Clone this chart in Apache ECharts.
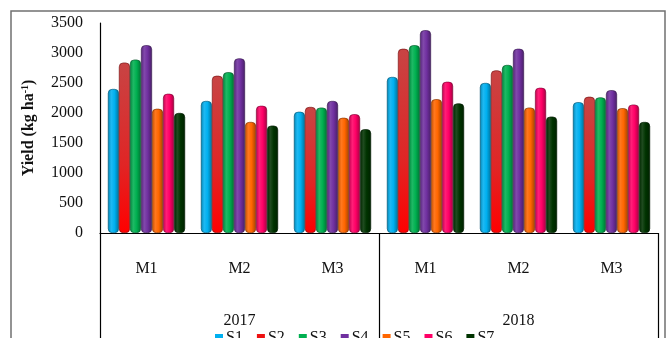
<!DOCTYPE html>
<html>
<head>
<meta charset="utf-8">
<script src="https://cdn.jsdelivr.net/npm/echarts@6/dist/echarts.min.js"></script>
<style>
  html, body { margin: 0; padding: 0; background: #fff; }
  #chart { width: 672px; height: 338px; }
</style>
</head>
<body>
<div id="chart"></div>
<script>
// Grain yield (kg/ha) by main plot (M) and sub plot (S) treatments, two seasons
const years = ['2017', '2018'];
const mainPlots = ['M1', 'M2', 'M3', 'M1', 'M2', 'M3'];
const seriesNames = ['S1', 'S2', 'S3', 'S4', 'S5', 'S6', 'S7'];
const yTicks = { min: 0, max: 3500, step: 500 };

// values per sub-plot treatment, in order 2017 M1..M3, 2018 M1..M3
const S1 = [2400, 2200, 2020, 2600, 2500, 2180];
const S2 = [2840, 2620, 2100, 3070, 2710, 2270];
const S3 = [2890, 2680, 2090, 3130, 2800, 2260];
const S4 = [3130, 2910, 2200, 3380, 3070, 2380];
const S5 = [2070, 1850, 1920, 2230, 2090, 2080];
const S6 = [2320, 2120, 1980, 2520, 2420, 2140];
const S7 = [2000, 1790, 1730, 2160, 1940, 1850];
const values = [S1, S2, S3, S4, S5, S6, S7];

const baseColors = ['#00B0F0', '#EE1111', '#00B050', '#7030A0', '#FF6600', '#FF0066', '#003300'];

function shade(hex, f) {
  const n = parseInt(hex.slice(1), 16);
  let r = (n >> 16) & 255, g = (n >> 8) & 255, b = n & 255;
  const adj = c => f < 0 ? Math.round(c * (1 + f)) : Math.round(c + (255 - c) * f);
  r = adj(r); g = adj(g); b = adj(b);
  return '#' + [r, g, b].map(c => c.toString(16).padStart(2, '0')).join('');
}

// cylinder-like horizontal shading
function cylinder(hex) {
  return new echarts.graphic.LinearGradient(0, 0, 1, 0, [
    { offset: 0, color: shade(hex, -0.25) },
    { offset: 0.3, color: shade(hex, 0.12) },
    { offset: 0.6, color: hex },
    { offset: 1, color: shade(hex, -0.35) }
  ]);
}

function fillFor(i) {
  if (i === 1) {
    // S2 fades from brick red at the top to bright red at the base
    return new echarts.graphic.LinearGradient(0, 0, 0, 1, [
      { offset: 0, color: '#C84444' },
      { offset: 0.6, color: '#E02525' },
      { offset: 1, color: '#FF0000' }
    ]);
  }
  return cylinder(baseColors[i]);
}

const font = 'Liberation Serif, Times New Roman, serif';

const series = seriesNames.map((name, i) => ({
  name: name,
  type: 'bar',
  data: values[i],
  barGap: '0%',
  barCategoryGap: '17%',
  itemStyle: {
    color: fillFor(i),
    borderColor: shade(baseColors[i], -0.55),
    borderWidth: 0.6,
    borderRadius: [4, 4, 4, 4]
  }
}));

const chart = echarts.init(document.getElementById('chart'), null, { renderer: 'canvas' });
chart.setOption({
  animation: false,
  backgroundColor: '#fff',
  color: baseColors,
  textStyle: { fontFamily: font, color: '#111' },
  grid: { left: 100, right: 14, top: 23, bottom: 105 },
  legend: {
    data: seriesNames.map((n, i) => ({ name: n, itemStyle: { color: baseColors[i], borderWidth: 0 } })),
    left: 210,
    top: 325,
    icon: 'rect',
    itemWidth: 8,
    itemHeight: 8,
    itemGap: 14,
    textStyle: { fontFamily: font, fontSize: 16, color: '#111', padding: [0, 0, 0, -2] }
  },
  xAxis: [
    {
      type: 'category',
      data: mainPlots,
      axisLine: { show: true, lineStyle: { color: '#000', width: 1.2 } },
      axisTick: { show: false },
      axisLabel: { fontFamily: font, fontSize: 16, color: '#111', margin: 28 }
    },
    {
      type: 'category',
      data: years,
      position: 'bottom',
      axisLine: { show: false },
      axisTick: { show: true, length: 112, lineStyle: { color: '#000', width: 1.2 } },
      axisLabel: { fontFamily: font, fontSize: 16, color: '#111', margin: 80 },
      splitLine: { show: false }
    }
  ],
  yAxis: {
    type: 'value',
    min: yTicks.min,
    max: yTicks.max,
    interval: yTicks.step,
    name: '{a|Yield (kg ha}{s|-1}{a|)}',
    nameLocation: 'middle',
    nameGap: 62,
    nameTextStyle: {
      rich: {
        a: { fontFamily: font, fontSize: 16, fontWeight: 'bold', color: '#111', lineHeight: 18 },
        s: { fontFamily: font, fontSize: 10, fontWeight: 'bold', color: '#111', verticalAlign: 'top', lineHeight: 18, padding: [0, 0, 6, 0] }
      }
    },
    axisLine: { show: true, lineStyle: { color: '#000', width: 1.2 } },
    axisTick: { show: false },
    splitLine: { show: false },
    axisLabel: {
      fontFamily: font, fontSize: 16, color: '#111', margin: 17,
      formatter: v => String(v)
    }
  },
  graphic: [
    {
      type: 'rect',
      shape: { x: 11, y: 11, width: 654, height: 345 },
      style: { fill: 'none', stroke: '#707070', lineWidth: 1.5 },
      silent: true
    }
  ],
  series: series
});
</script>
</body>
</html>
